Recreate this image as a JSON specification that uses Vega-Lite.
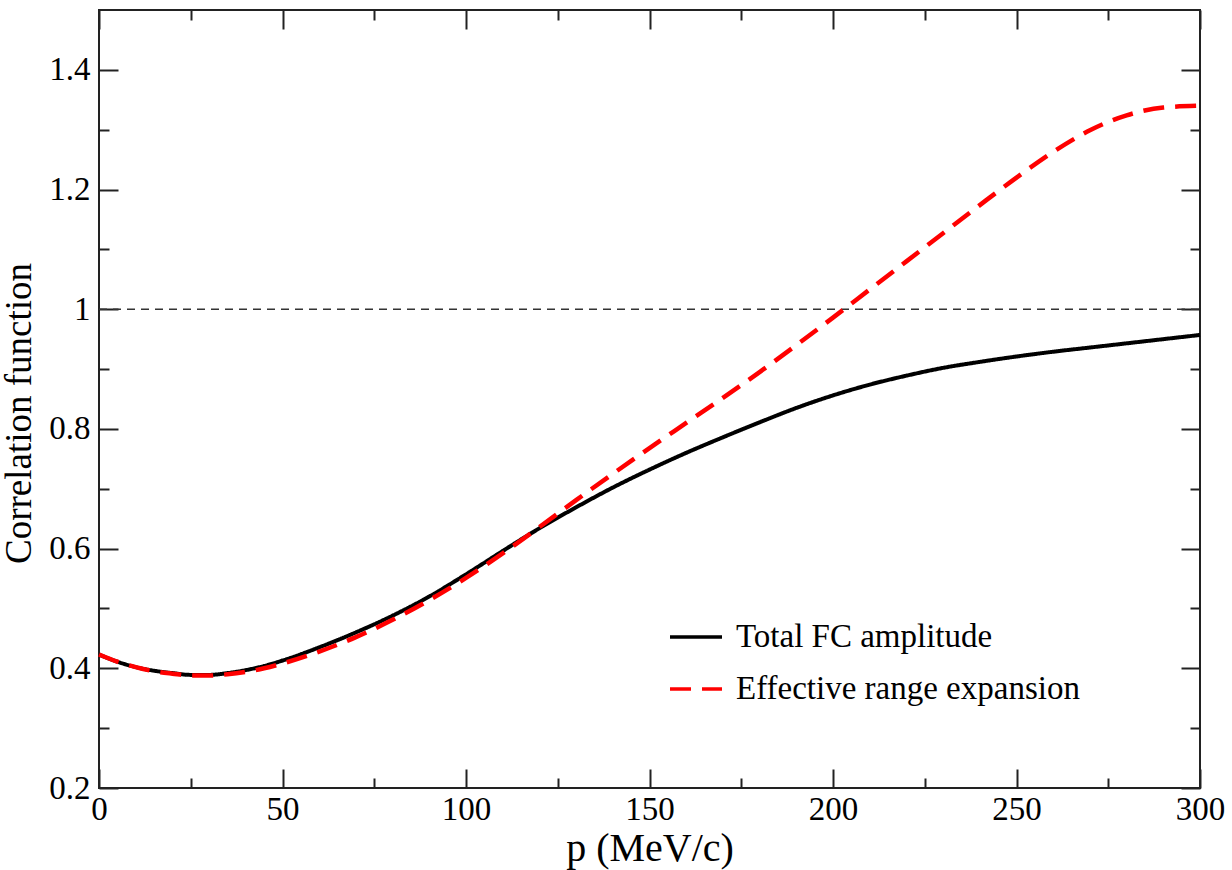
{
  "$schema": "https://vega.github.io/schema/vega-lite/v6.json",
  "width": 1101,
  "height": 778,
  "autosize": {"type": "none"},
  "padding": {"left": 99, "top": 10, "right": 32, "bottom": 82},
  "background": "white",
  "config": {
    "view": {"stroke": "#222", "strokeWidth": 2},
    "font": "Liberation Serif",
    "axis": {
      "grid": false,
      "domain": false,
      "tickColor": "#222",
      "tickWidth": 2,
      "labelFont": "Liberation Serif",
      "labelFontSize": 33,
      "labelColor": "black",
      "labelFlush": false,
      "titleFont": "Liberation Serif",
      "titleFontWeight": "normal",
      "titleColor": "black",
      "titleFontSize": 40
    },
    "legend": {
      "orient": "none",
      "legendX": 569,
      "legendY": 599,
      "symbolType": "stroke",
      "symbolSize": 2704,
      "symbolStrokeWidth": 3.5,
      "labelFont": "Liberation Serif",
      "labelFontSize": 33,
      "labelColor": "black",
      "labelOffset": 12,
      "labelLimit": 600,
      "rowPadding": 7,
      "padding": 0
    }
  },
  "datasets": {
    "curves": [
      {"p": 0, "v": 0.423, "s": "Total FC amplitude"},
      {"p": 5, "v": 0.411, "s": "Total FC amplitude"},
      {"p": 10, "v": 0.402, "s": "Total FC amplitude"},
      {"p": 15, "v": 0.396, "s": "Total FC amplitude"},
      {"p": 20, "v": 0.392, "s": "Total FC amplitude"},
      {"p": 25, "v": 0.389, "s": "Total FC amplitude"},
      {"p": 30, "v": 0.389, "s": "Total FC amplitude"},
      {"p": 35, "v": 0.392, "s": "Total FC amplitude"},
      {"p": 40, "v": 0.397, "s": "Total FC amplitude"},
      {"p": 45, "v": 0.404, "s": "Total FC amplitude"},
      {"p": 50, "v": 0.413, "s": "Total FC amplitude"},
      {"p": 60, "v": 0.435, "s": "Total FC amplitude"},
      {"p": 70, "v": 0.460, "s": "Total FC amplitude"},
      {"p": 80, "v": 0.488, "s": "Total FC amplitude"},
      {"p": 90, "v": 0.520, "s": "Total FC amplitude"},
      {"p": 100, "v": 0.557, "s": "Total FC amplitude"},
      {"p": 110, "v": 0.596, "s": "Total FC amplitude"},
      {"p": 120, "v": 0.634, "s": "Total FC amplitude"},
      {"p": 130, "v": 0.669, "s": "Total FC amplitude"},
      {"p": 140, "v": 0.702, "s": "Total FC amplitude"},
      {"p": 150, "v": 0.732, "s": "Total FC amplitude"},
      {"p": 160, "v": 0.760, "s": "Total FC amplitude"},
      {"p": 170, "v": 0.786, "s": "Total FC amplitude"},
      {"p": 180, "v": 0.811, "s": "Total FC amplitude"},
      {"p": 190, "v": 0.835, "s": "Total FC amplitude"},
      {"p": 200, "v": 0.856, "s": "Total FC amplitude"},
      {"p": 210, "v": 0.874, "s": "Total FC amplitude"},
      {"p": 220, "v": 0.889, "s": "Total FC amplitude"},
      {"p": 230, "v": 0.902, "s": "Total FC amplitude"},
      {"p": 240, "v": 0.912, "s": "Total FC amplitude"},
      {"p": 250, "v": 0.921, "s": "Total FC amplitude"},
      {"p": 260, "v": 0.929, "s": "Total FC amplitude"},
      {"p": 270, "v": 0.936, "s": "Total FC amplitude"},
      {"p": 280, "v": 0.943, "s": "Total FC amplitude"},
      {"p": 290, "v": 0.950, "s": "Total FC amplitude"},
      {"p": 300, "v": 0.957, "s": "Total FC amplitude"},
      {"p": 0, "v": 0.423, "s": "Effective range expansion"},
      {"p": 5, "v": 0.411, "s": "Effective range expansion"},
      {"p": 10, "v": 0.402, "s": "Effective range expansion"},
      {"p": 15, "v": 0.395, "s": "Effective range expansion"},
      {"p": 20, "v": 0.391, "s": "Effective range expansion"},
      {"p": 25, "v": 0.388, "s": "Effective range expansion"},
      {"p": 30, "v": 0.388, "s": "Effective range expansion"},
      {"p": 35, "v": 0.390, "s": "Effective range expansion"},
      {"p": 40, "v": 0.394, "s": "Effective range expansion"},
      {"p": 45, "v": 0.400, "s": "Effective range expansion"},
      {"p": 50, "v": 0.408, "s": "Effective range expansion"},
      {"p": 60, "v": 0.428, "s": "Effective range expansion"},
      {"p": 70, "v": 0.452, "s": "Effective range expansion"},
      {"p": 80, "v": 0.481, "s": "Effective range expansion"},
      {"p": 90, "v": 0.514, "s": "Effective range expansion"},
      {"p": 100, "v": 0.551, "s": "Effective range expansion"},
      {"p": 110, "v": 0.592, "s": "Effective range expansion"},
      {"p": 120, "v": 0.636, "s": "Effective range expansion"},
      {"p": 130, "v": 0.681, "s": "Effective range expansion"},
      {"p": 140, "v": 0.725, "s": "Effective range expansion"},
      {"p": 150, "v": 0.768, "s": "Effective range expansion"},
      {"p": 160, "v": 0.810, "s": "Effective range expansion"},
      {"p": 170, "v": 0.852, "s": "Effective range expansion"},
      {"p": 180, "v": 0.895, "s": "Effective range expansion"},
      {"p": 190, "v": 0.940, "s": "Effective range expansion"},
      {"p": 200, "v": 0.986, "s": "Effective range expansion"},
      {"p": 210, "v": 1.033, "s": "Effective range expansion"},
      {"p": 220, "v": 1.080, "s": "Effective range expansion"},
      {"p": 230, "v": 1.127, "s": "Effective range expansion"},
      {"p": 240, "v": 1.174, "s": "Effective range expansion"},
      {"p": 250, "v": 1.220, "s": "Effective range expansion"},
      {"p": 260, "v": 1.263, "s": "Effective range expansion"},
      {"p": 270, "v": 1.299, "s": "Effective range expansion"},
      {"p": 280, "v": 1.324, "s": "Effective range expansion"},
      {"p": 290, "v": 1.337, "s": "Effective range expansion"},
      {"p": 300, "v": 1.340, "s": "Effective range expansion"}
    ],
    "unity": [
      {"pa": 0, "pb": 300, "c": 1}
    ]
  },
  "layer": [
    {
      "data": {"name": "unity"},
      "mark": {"type": "rule", "stroke": "#333", "strokeWidth": 1.5, "strokeDash": [8, 6]},
      "encoding": {
        "x": {"field": "pa", "type": "quantitative", "scale": {"domain": [0, 300], "nice": false, "zero": false},
          "axis": {"orient": "top", "values": [0, 50, 100, 150, 200, 250, 300], "tickSize": -19, "labels": false, "title": null}},
        "x2": {"field": "pb"},
        "y": {"field": "c", "type": "quantitative", "scale": {"domain": [0.2, 1.5], "nice": false, "zero": false},
          "axis": {"orient": "right", "values": [0.2, 0.4, 0.6, 0.8, 1, 1.2, 1.4], "tickSize": -19, "labels": false, "title": null}}
      }
    },
    {
      "data": {"name": "curves"},
      "transform": [{"filter": "datum.s === 'Total FC amplitude'"}],
      "mark": {"type": "line", "strokeWidth": 4, "interpolate": "monotone"},
      "encoding": {
        "x": {"field": "p", "type": "quantitative", "scale": {"domain": [0, 300], "nice": false, "zero": false},
          "axis": {"orient": "bottom", "values": [0, 50, 100, 150, 200, 250, 300], "tickSize": -19, "labelPadding": 24,
            "title": "p (MeV/c)", "titleY": 72, "titleBaseline": "alphabetic"}},
        "y": {"field": "v", "type": "quantitative", "scale": {"domain": [0.2, 1.5], "nice": false, "zero": false},
          "axis": {"orient": "left", "values": [0.2, 0.4, 0.6, 0.8, 1, 1.2, 1.4], "format": "~g", "tickSize": -19, "labelPadding": 28,
            "title": "Correlation function", "titleFontSize": 37, "titleX": -69, "titleY": 403, "titleBaseline": "alphabetic", "titleAngle": -90, "titleAlign": "center"}},
        "color": {"field": "s", "type": "nominal", "scale": {"domain": ["Total FC amplitude", "Effective range expansion"], "range": ["black", "#ff0000"]}, "legend": {"title": null}},
        "strokeDash": {"field": "s", "type": "nominal", "scale": {"domain": ["Total FC amplitude", "Effective range expansion"], "range": [[1, 0], [21, 11]]}, "legend": {"title": null}}
      }
    },
    {
      "data": {"name": "curves"},
      "transform": [{"filter": "datum.s === 'Effective range expansion'"}],
      "mark": {"type": "line", "strokeWidth": 4.5, "interpolate": "monotone"},
      "encoding": {
        "x": {"field": "p", "type": "quantitative", "scale": {"domain": [0, 300], "nice": false, "zero": false},
          "axis": {"orient": "bottom", "values": [25, 75, 125, 175, 225, 275], "tickSize": -10, "labels": false, "title": null}},
        "y": {"field": "v", "type": "quantitative", "scale": {"domain": [0.2, 1.5], "nice": false, "zero": false},
          "axis": {"orient": "left", "values": [0.3, 0.5, 0.7, 0.9, 1.1, 1.3], "tickSize": -10, "labels": false, "title": null}},
        "color": {"field": "s", "type": "nominal", "scale": {"domain": ["Total FC amplitude", "Effective range expansion"], "range": ["black", "#ff0000"]}, "legend": {"title": null}},
        "strokeDash": {"field": "s", "type": "nominal", "scale": {"domain": ["Total FC amplitude", "Effective range expansion"], "range": [[1, 0], [21, 11]]}, "legend": {"title": null}}
      }
    },
    {
      "data": {"name": "curves"},
      "transform": [{"filter": "datum.s === 'Total FC amplitude'"}],
      "mark": {"type": "point", "opacity": 0},
      "encoding": {
        "x": {"field": "p", "type": "quantitative", "scale": {"domain": [0, 300], "nice": false, "zero": false},
          "axis": {"orient": "top", "values": [25, 75, 125, 175, 225, 275], "tickSize": -10, "labels": false, "title": null}},
        "y": {"field": "v", "type": "quantitative", "scale": {"domain": [0.2, 1.5], "nice": false, "zero": false},
          "axis": {"orient": "right", "values": [0.3, 0.5, 0.7, 0.9, 1.1, 1.3], "tickSize": -10, "labels": false, "title": null}}
      }
    }
  ],
  "resolve": {"scale": {"x": "independent", "y": "independent"}}
}
